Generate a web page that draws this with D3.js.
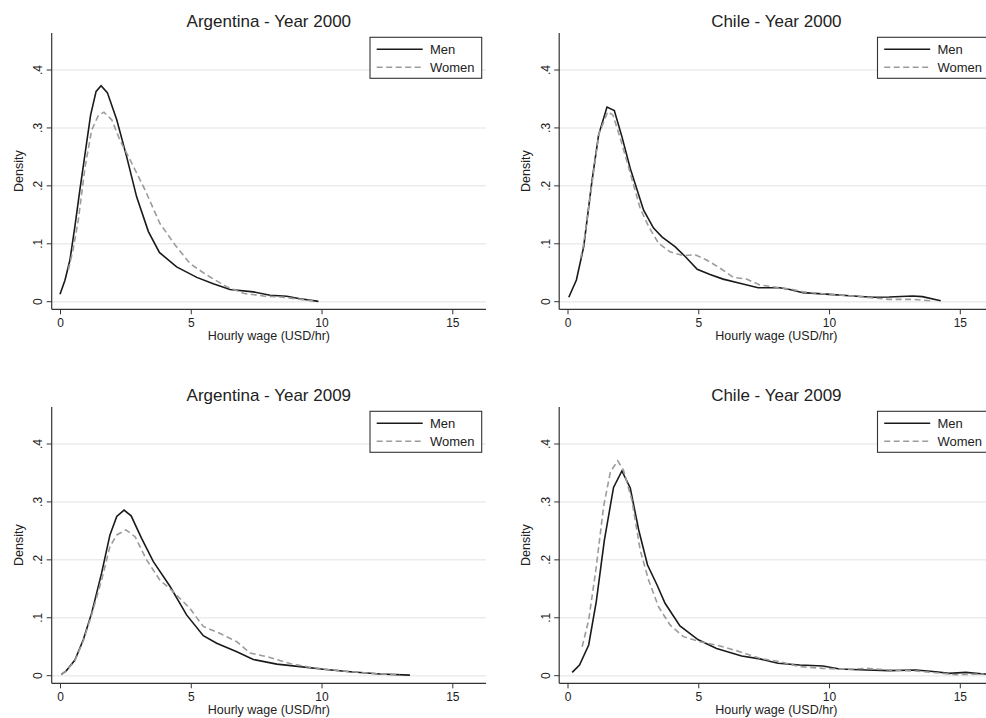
<!DOCTYPE html>
<html>
<head>
<meta charset="utf-8">
<script src="https://cdn.jsdelivr.net/npm/d3@7"></script>
<style>
  body { margin: 0; background: #fff; }
  text { font-family: "Liberation Sans", Arial, sans-serif; fill: #222; }
</style>
</head>
<body>
<div id="chart"></div>
<script>
const svgWidth = 986;
const svgHeight = 718;

// titles, legend and ticks
const panelTitles = ["Argentina - Year 2000", "Chile - Year 2000", "Argentina - Year 2009", "Chile - Year 2009"];
const seriesNames = ["Men", "Women"];
const xTicks = [0, 5, 10, 15];
const yTicks = [0, 0.1, 0.2, 0.3, 0.4];
const yTickLabels = ["0", ".1", ".2", ".3", ".4"];

// kernel density estimates [wage, density]
const arg2000Men = [[0,0.013],[0.19,0.037],[0.38,0.072],[0.57,0.13],[0.76,0.193],[0.96,0.256],[1.17,0.322],[1.38,0.363],[1.57,0.373],[1.81,0.361],[2.17,0.314],[2.55,0.25],[2.93,0.181],[3.38,0.121],[3.8,0.085],[4.46,0.06],[5.23,0.042],[5.86,0.031],[6.5,0.021],[7.39,0.017],[8.03,0.011],[8.67,0.0095],[9.18,0.005],[9.88,0.0005]];
const arg2000Women = [[0.32,0.055],[0.5,0.09],[0.7,0.141],[0.96,0.233],[1.21,0.296],[1.47,0.322],[1.68,0.327],[1.98,0.314],[2.29,0.279],[2.68,0.245],[3.25,0.193],[3.82,0.135],[4.4,0.098],[4.97,0.066],[5.61,0.046],[6.37,0.026],[7.01,0.0145],[7.78,0.0098],[8.54,0.0076],[9.2,0.004],[9.68,0.001]];

const chi2000Men = [[0.05,0.0076],[0.34,0.0375],[0.62,0.095],[0.94,0.21],[1.19,0.288],[1.51,0.336],[1.79,0.33],[2.08,0.285],[2.4,0.23],[2.91,0.158],[3.29,0.127],[3.61,0.112],[4.11,0.095],[4.5,0.078],[4.96,0.056],[5.45,0.047],[5.95,0.039],[6.59,0.032],[7.29,0.024],[8.11,0.024],[8.5,0.021],[9.0,0.0156],[10.02,0.0127],[10.78,0.0104],[11.67,0.0076],[12.3,0.0081],[13.19,0.0098],[13.57,0.0087],[14.27,0.0018]];
const chi2000Women = [[0.5,0.075],[0.62,0.1],[0.94,0.205],[1.2,0.29],[1.54,0.328],[1.74,0.322],[2.02,0.282],[2.4,0.222],[2.78,0.161],[3.1,0.13],[3.48,0.101],[3.92,0.086],[4.43,0.0795],[4.88,0.081],[5.32,0.072],[5.83,0.058],[6.34,0.042],[6.85,0.039],[7.35,0.029],[7.99,0.025],[8.61,0.021],[9.0,0.017],[10.02,0.0127],[10.78,0.0104],[11.67,0.0065],[12.3,0.004],[13.19,0.004],[13.97,0.0012]];

const arg2009Men = [[0.05,0.0024],[0.23,0.008],[0.57,0.027],[0.89,0.062],[1.21,0.108],[1.59,0.177],[1.91,0.243],[2.17,0.275],[2.45,0.286],[2.72,0.276],[3.12,0.237],[3.57,0.197],[4.21,0.154],[4.84,0.105],[5.48,0.069],[5.99,0.056],[6.76,0.0415],[7.39,0.028],[8.29,0.02],[9.18,0.0156],[10.07,0.011],[11.09,0.0069],[12.24,0.0029],[13.38,0.001]];
const arg2009Women = [[0.05,0.0024],[0.23,0.008],[0.57,0.026],[0.89,0.06],[1.21,0.105],[1.59,0.165],[1.91,0.223],[2.17,0.243],[2.52,0.2516],[2.87,0.24],[3.31,0.2],[3.82,0.165],[4.33,0.145],[4.97,0.116],[5.48,0.085],[6.12,0.073],[6.76,0.0587],[7.27,0.039],[7.91,0.033],[8.8,0.021],[9.5,0.015],[10.07,0.0115],[11.09,0.007],[12.24,0.003],[13.0,0.0015]];

const chi2009Men = [[0.18,0.0058],[0.46,0.0185],[0.81,0.053],[1.1,0.128],[1.41,0.234],[1.76,0.325],[2.08,0.3535],[2.4,0.324],[2.72,0.252],[3.06,0.191],[3.42,0.157],[3.73,0.125],[4.3,0.086],[5.0,0.062],[5.7,0.047],[6.66,0.034],[7.35,0.029],[8.05,0.0214],[8.88,0.0185],[9.77,0.0168],[10.4,0.0116],[11.42,0.0098],[12.3,0.0087],[13.32,0.0098],[14.08,0.0069],[14.59,0.004],[15.23,0.0058],[15.92,0.003],[16.3,0.0025]];
const chi2009Women = [[0.56,0.05],[0.81,0.096],[1.1,0.188],[1.38,0.292],[1.64,0.352],[1.92,0.371],[2.14,0.355],[2.46,0.3035],[2.78,0.217],[3.1,0.165],[3.48,0.119],[3.92,0.0876],[4.43,0.0674],[5.07,0.0587],[5.83,0.0513],[6.59,0.0415],[7.35,0.03],[8.11,0.0242],[8.88,0.0156],[9.77,0.0127],[10.65,0.011],[11.42,0.0127],[12.3,0.0098],[13.32,0.0081],[14.08,0.0052],[14.84,0.0017],[15.92,0.003]];

const panels = [
  { title: panelTitles[0], men: arg2000Men, women: arg2000Women, col: 0, row: 0 },
  { title: panelTitles[1], men: chi2000Men, women: chi2000Women, col: 1, row: 0 },
  { title: panelTitles[2], men: arg2009Men, women: arg2009Women, col: 0, row: 1 },
  { title: panelTitles[3], men: chi2009Men, women: chi2009Women, col: 1, row: 1 }
];

// panel geometry (top-left panel coordinates)
const colOffset = 507.5;
const rowOffset = 374;
const axisLeft = 51.7, axisRight = 486, axisTop = 33, axisBottom = 309.3;

const svg = d3.select("#chart")
  .append("svg")
  .attr("width", svgWidth)
  .attr("height", svgHeight);

const xScale = d3.scaleLinear().domain([0, 15]).range([60, 452.3]);
const yScale = d3.scaleLinear().domain([0, 0.4]).range([301.7, 70]);

const line = d3.line()
  .x(d => xScale(d[0]))
  .y(d => yScale(d[1]));

panels.forEach(p => {
  const g = svg.append("g")
    .attr("transform", `translate(${p.col * colOffset}, ${p.row * rowOffset})`);

  // gridlines
  g.append("g").selectAll("line")
    .data(yTicks)
    .enter()
    .append("line")
    .attr("x1", axisLeft)
    .attr("x2", axisRight)
    .attr("y1", d => yScale(d))
    .attr("y2", d => yScale(d))
    .attr("stroke", "#ececec")
    .attr("stroke-width", 1.5);

  // x axis
  const xAxis = g.append("g")
    .attr("transform", `translate(0, ${axisBottom})`)
    .call(d3.axisBottom(xScale).tickValues(xTicks).tickSize(5).tickPadding(4).tickFormat(d3.format("d")));
  xAxis.select(".domain").remove();
  xAxis.selectAll("line").attr("stroke", "#333");
  xAxis.selectAll("text")
    .attr("font-size", "12px")
    .attr("font-family", "Liberation Sans, Arial, sans-serif")
    .attr("fill", "#222");

  // y axis ticks, labels rotated like Stata
  const yAxis = g.append("g");
  yAxis.selectAll("line")
    .data(yTicks)
    .enter()
    .append("line")
    .attr("x1", axisLeft - 5)
    .attr("x2", axisLeft)
    .attr("y1", d => yScale(d))
    .attr("y2", d => yScale(d))
    .attr("stroke", "#333");
  yAxis.selectAll("text")
    .data(yTicks)
    .enter()
    .append("text")
    .attr("transform", d => `translate(${axisLeft - 9.5}, ${yScale(d)}) rotate(-90)`)
    .attr("text-anchor", "middle")
    .attr("font-size", "12px")
    .text((d, i) => yTickLabels[i]);

  // axis lines
  g.append("line")
    .attr("x1", axisLeft).attr("x2", axisRight)
    .attr("y1", axisBottom).attr("y2", axisBottom)
    .attr("stroke", "#333").attr("stroke-width", 1.2);
  g.append("line")
    .attr("x1", axisLeft).attr("x2", axisLeft)
    .attr("y1", axisTop).attr("y2", axisBottom)
    .attr("stroke", "#333").attr("stroke-width", 1.2);

  // axis titles
  g.append("text")
    .attr("transform", `translate(22.5, ${(axisTop + axisBottom) / 2}) rotate(-90)`)
    .attr("text-anchor", "middle")
    .attr("font-size", "12.5px")
    .text("Density");
  g.append("text")
    .attr("x", (axisLeft + axisRight) / 2)
    .attr("y", axisBottom + 31)
    .attr("text-anchor", "middle")
    .attr("font-size", "12.5px")
    .text("Hourly wage (USD/hr)");

  // title
  g.append("text")
    .attr("x", (axisLeft + axisRight) / 2)
    .attr("y", 26.5)
    .attr("text-anchor", "middle")
    .attr("font-size", "17px")
    .text(p.title);

  // density curves
  g.append("path")
    .datum(p.men)
    .attr("d", line)
    .attr("fill", "none")
    .attr("stroke", "#1a1a1a")
    .attr("stroke-width", 1.6);
  g.append("path")
    .datum(p.women)
    .attr("d", line)
    .attr("fill", "none")
    .attr("stroke", "#9c9c9c")
    .attr("stroke-width", 1.6)
    .attr("stroke-dasharray", "6,3.5");

  // legend
  const legend = g.append("g");
  legend.append("rect")
    .attr("x", 370).attr("y", 37.3)
    .attr("width", 111.7).attr("height", 41)
    .attr("fill", "#fff")
    .attr("stroke", "#333")
    .attr("stroke-width", 1.1);
  seriesNames.forEach((name, i) => {
    const ly = 49.3 + i * 18;
    legend.append("line")
      .attr("x1", 376.7).attr("x2", 422.7)
      .attr("y1", ly).attr("y2", ly)
      .attr("stroke", i === 0 ? "#1a1a1a" : "#9c9c9c")
      .attr("stroke-width", 1.6)
      .attr("stroke-dasharray", i === 0 ? null : "6,3.5");
    legend.append("text")
      .attr("x", 430)
      .attr("y", ly + 4.6)
      .attr("font-size", "13px")
      .text(name);
  });
});
</script>
</body>
</html>
